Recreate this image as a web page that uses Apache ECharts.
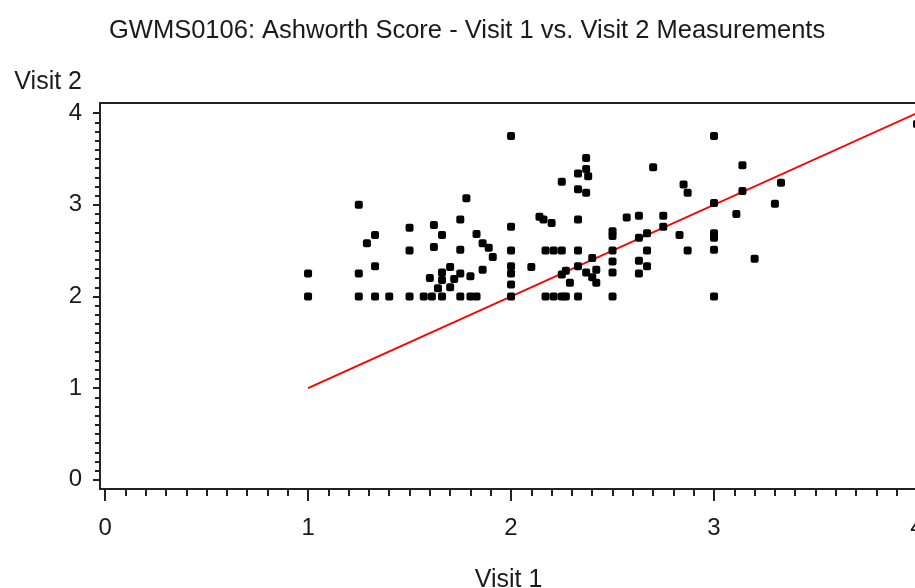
<!DOCTYPE html>
<html>
<head>
<meta charset="utf-8">
<script src="https://cdn.jsdelivr.net/npm/echarts@6/dist/echarts.min.js"></script>
<style>
  html, body { margin: 0; padding: 0; background: #fff; }
  #chart { width: 915px; height: 588px; }
</style>
</head>
<body>
<div id="chart"></div>
<script>
// Visit 1 / Visit 2 Ashworth scores
const visit1 = [
  1, 1, 1.25, 1.25, 1.25, 1.29, 1.33, 1.33, 1.33, 1.4,
  1.5, 1.5, 1.5, 1.57, 1.61, 1.6, 1.62, 1.62, 1.66, 1.66,
  1.66, 1.66, 1.64, 1.7, 1.7, 1.72, 1.75, 1.75, 1.75, 1.75,
  1.78, 1.8, 1.8, 1.83, 1.83, 1.86, 1.86, 1.89, 1.91,
  2, 2, 2, 2, 2, 2, 2, 2.1, 2.14, 2.16, 2.2,
  2.17, 2.21, 2.17, 2.21, 2.25, 2.25, 2.25, 2.25, 2.27, 2.27, 2.29,
  2.33, 2.33, 2.33, 2.33, 2.33, 2.33,
  2.37, 2.37, 2.38, 2.37, 2.37, 2.4, 2.4, 2.42, 2.42,
  2.5, 2.5, 2.5, 2.5, 2.5, 2.5, 2.57,
  2.63, 2.63, 2.63, 2.63, 2.67, 2.67, 2.67, 2.7, 2.75, 2.75, 2.83,
  2.85, 2.87, 2.87,
  3, 3, 3, 3, 3, 3, 3.11, 3.14, 3.14, 3.2, 3.3, 3.33, 4
];
const visit2 = [
  2.25, 2, 3, 2.25, 2, 2.58, 2.67, 2.33, 2, 2,
  2.75, 2.5, 2, 2, 2, 2.2, 2.78, 2.54, 2.67, 2.26,
  2.18, 2, 2.09, 2.32, 2.1, 2.19, 2.84, 2.51, 2.25, 2,
  3.07, 2.22, 2, 2, 2.68, 2.58, 2.29, 2.53, 2.43,
  3.75, 2.76, 2.5, 2.33, 2.25, 2.13, 2, 2.32, 2.87, 2.84, 2.8,
  2.5, 2.5, 2, 2, 3.25, 2.5, 2.24, 2, 2.28, 2, 2.15,
  3.34, 3.17, 2.84, 2.5, 2.33, 2,
  3.51, 3.39, 3.31, 3.13, 2.26, 2.42, 2.21, 2.29, 2.15,
  2.71, 2.66, 2.5, 2.38, 2.26, 2, 2.86,
  2.88, 2.64, 2.39, 2.25, 2.69, 2.5, 2.33, 3.41, 2.88, 2.76, 2.67,
  3.22, 3.13, 2.5,
  3.75, 3.02, 2.69, 2.64, 2.51, 2, 2.9, 3.43, 3.15, 2.41, 3.01, 3.24, 3.88
];

// reference line Visit 2 = Visit 1
const lineX = [1, 4];
const lineY = [1, 4];

const majorTicks = [0, 1, 2, 3, 4];
const minorTicks = [];
for (let i = 0; i <= 40; i++) minorTicks.push(i / 10);

const font = 'Liberation Sans, Arial, sans-serif';
const ink = '#1a1a1a';

const chart = echarts.init(document.getElementById('chart'));

const axisBase = (min, max) => ({
  type: 'value',
  min: min,
  max: max,
  splitLine: { show: false },
});

chart.setOption({
  animation: false,
  title: {
    text: 'GWMS0106: Ashworth Score - Visit 1 vs. Visit 2 Measurements',
    left: 104,
    top: 13,
    textStyle: { fontFamily: font, fontSize: 25.5, fontWeight: 'normal', color: ink },
  },
  grid: {
    left: 100, right: -2, top: 103, bottom: 99,
    show: true, borderColor: '#222', borderWidth: 2,
    containLabel: false, outerBoundsMode: 'none',
  },
  xAxis: [
    {
      ...axisBase(-0.025, 4),
      position: 'bottom',
      name: 'Visit 1',
      nameLocation: 'middle',
      nameGap: 79,
      nameTextStyle: { fontFamily: font, fontSize: 25, color: ink, verticalAlign: 'top' },
      axisLine: { show: true, onZero: false, lineStyle: { color: '#222', width: 2 } },
      axisTick: { show: true, customValues: majorTicks, length: 12, lineStyle: { color: '#222', width: 2 } },
      axisLabel: { customValues: majorTicks, margin: 27, fontFamily: font, fontSize: 24, color: ink },
    },
    {
      ...axisBase(-0.025, 4),
      position: 'bottom',
      axisLine: { show: false, onZero: false },
      axisTick: { show: true, customValues: minorTicks, length: 7, lineStyle: { color: '#222', width: 2 } },
      axisLabel: { show: false },
    },
  ],
  yAxis: [
    {
      ...axisBase(-0.1, 4.11),
      position: 'left',
      name: 'Visit 2',
      nameLocation: 'end',
      nameGap: 21,
      nameTextStyle: {
        fontFamily: font, fontSize: 25, color: ink,
        align: 'right', verticalAlign: 'middle', padding: [0, 18, 0, 0],
      },
      axisLine: { show: true, onZero: false, lineStyle: { color: '#222', width: 2 } },
      axisTick: { show: true, customValues: majorTicks, length: 7, lineStyle: { color: '#222', width: 2 } },
      axisLabel: { customValues: majorTicks, margin: 18, fontFamily: font, fontSize: 24, color: ink },
    },
    {
      ...axisBase(-0.1, 4.11),
      position: 'left',
      axisLine: { show: false, onZero: false },
      axisTick: { show: true, customValues: minorTicks, length: 5, lineStyle: { color: '#222', width: 2 } },
      axisLabel: { show: false },
    },
  ],
  series: [
    {
      type: 'line',
      data: lineX.map((x, i) => [x, lineY[i]]),
      showSymbol: false,
      symbol: 'none',
      lineStyle: { color: '#ff0000', width: 2 },
      z: 3,
    },
    {
      type: 'scatter',
      data: visit1.map((x, i) => [x, visit2[i]]),
      symbol: 'roundRect',
      symbolSize: 8,
      itemStyle: { color: '#000', opacity: 1 },
      z: 4,
    },
  ],
});
</script>
</body>
</html>
